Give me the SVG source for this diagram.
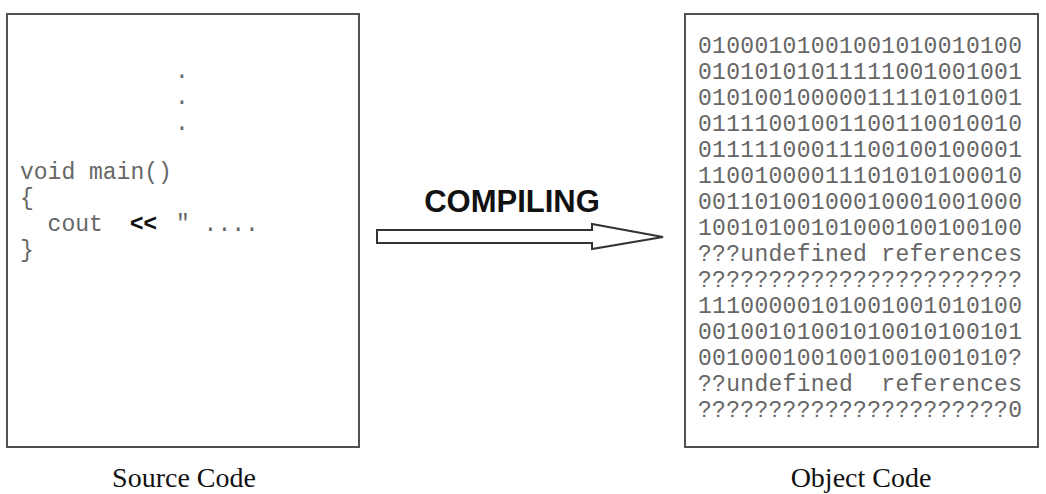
<svg xmlns="http://www.w3.org/2000/svg" width="1046" height="494" viewBox="0 0 1046 494">
<style>
.box{fill:#fff;stroke:#505050;stroke-width:2}
.mono{font-family:"Liberation Mono","Courier New",monospace;font-size:23px;fill:#666}
.lbl{font-family:"Liberation Serif","Times New Roman",serif;font-size:28px;fill:#111;text-anchor:middle}
.big{font-family:"Liberation Sans",Arial,sans-serif;font-weight:bold;font-size:31px;fill:#111;text-anchor:middle}
.op{font-family:"Liberation Sans",Arial,sans-serif;font-weight:bold;font-size:23px;fill:#111}
</style>
<rect width="1046" height="494" fill="#fff"/>
<g id="source">
<rect class="box" x="7" y="14" width="352" height="433"/>
<text class="mono" x="182" y="78" text-anchor="middle">.</text>
<text class="mono" x="182" y="104" text-anchor="middle">.</text>
<text class="mono" x="182" y="130" text-anchor="middle">.</text>
<text class="mono" x="20" y="179">void main()</text>
<text class="mono" x="20" y="205">{</text>
<text class="mono" x="20" y="231" xml:space="preserve">  cout</text>
<text class="op" x="130" y="231">&lt;&lt;</text>
<text class="mono" x="176" y="231" xml:space="preserve">" ....</text>
<text class="mono" x="20" y="257">}</text>
<text class="lbl" x="184" y="487">Source Code</text>
</g>
<g id="object">
<rect class="box" x="685" y="14" width="353" height="433"/>
<g class="mono">
<text x="698" y="53" textLength="324">01000101001001010010100</text>
<text x="698" y="79" textLength="324">01010101011111001001001</text>
<text x="698" y="105" textLength="324">01010010000011110101001</text>
<text x="698" y="131" textLength="324">01111001001100110010010</text>
<text x="698" y="157" textLength="324">01111100011100100100001</text>
<text x="698" y="183" textLength="324">11001000011101010100010</text>
<text x="698" y="209" textLength="324">00110100100010001001000</text>
<text x="698" y="235" textLength="324">10010100101000100100100</text>
<text x="698" y="261" textLength="324" xml:space="preserve">???undefined references</text>
<text x="698" y="287" textLength="324">???????????????????????</text>
<text x="698" y="313" textLength="324">11100000101001001010100</text>
<text x="698" y="339" textLength="324">00100101001010010100101</text>
<text x="698" y="365" textLength="324">0010001001001001001010?</text>
<text x="698" y="391" textLength="324" xml:space="preserve">??undefined  references</text>
<text x="698" y="417" textLength="324">??????????????????????0</text>
</g>
<text class="lbl" x="861" y="487">Object Code</text>
</g>
<g id="connectors">
<polygon points="377,230 592,230 592,224 663,237 592,249 592,243 377,243" fill="#fff" stroke="#333" stroke-width="2" stroke-linejoin="miter"/>
<text class="big" x="512" y="212">COMPILING</text>
</g>
</svg>
